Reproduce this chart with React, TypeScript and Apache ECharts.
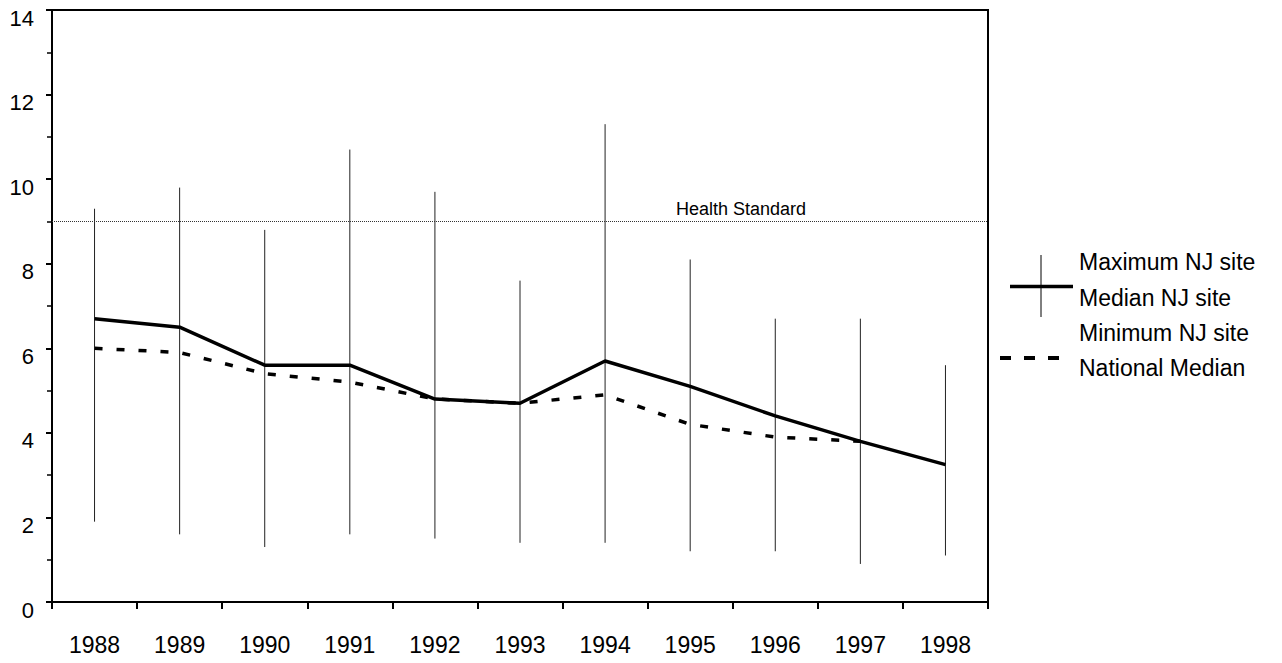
import React, { useEffect, useRef } from "react";
import * as echarts from "echarts";

const years = ["1988", "1989", "1990", "1991", "1992", "1993", "1994", "1995", "1996", "1997", "1998"];
const maxSite = [9.3, 9.8, 8.8, 10.7, 9.7, 7.6, 11.3, 8.1, 6.7, 6.7, 5.6];
const minSite = [1.9, 1.6, 1.3, 1.6, 1.5, 1.4, 1.4, 1.2, 1.2, 0.9, 1.1];
const medianSite = [6.7, 6.5, 5.6, 5.6, 4.8, 4.7, 5.7, 5.1, 4.4, 3.8, 3.25];
const nationalMedian = [6.0, 5.9, 5.4, 5.2, 4.8, 4.7, 4.9, 4.2, 3.9, 3.8, null];
const healthStandard = 9;
const legendLabels = ["Maximum NJ site", "Median NJ site", "Minimum NJ site", "National Median"];

const FONT = "Liberation Sans, Arial, sans-serif";

export default function App() {
  const ref = useRef<HTMLDivElement>(null);
  useEffect(() => {
    if (!ref.current) return;
    const chart = echarts.init(ref.current, null, { renderer: "svg" });
    const rangeData = years.map((_, i) => [i, minSite[i], maxSite[i]]);
    chart.setOption({
      animation: false,
      backgroundColor: "#fff",
      textStyle: { fontFamily: FONT },
      grid: {
        left: 52,
        right: 294,
        top: 10,
        bottom: 61,
        show: true,
        borderColor: "#000",
        borderWidth: 2,
      },
      xAxis: {
        type: "category",
        data: years,
        boundaryGap: true,
        axisLine: { lineStyle: { color: "#000", width: 2 } },
        axisTick: { show: true, length: 7, lineStyle: { color: "#000", width: 2 } },
        axisLabel: { color: "#000", fontSize: 23, margin: 31, fontFamily: FONT },
        splitLine: { show: false },
      },
      yAxis: {
        type: "value",
        min: 0,
        max: 14,
        interval: 2,
        axisLine: { show: true, lineStyle: { color: "#000", width: 2 } },
        axisTick: { show: true, length: 6, lineStyle: { color: "#000", width: 2 } },
        minorTick: { show: true, splitNumber: 2, length: 5, lineStyle: { color: "#000", width: 1.5 } },
        axisLabel: {
          color: "#000",
          fontSize: 22,
          margin: 18,
          fontFamily: FONT,
          verticalAlign: "top",
          lineHeight: 16,
        },
        splitLine: { show: false },
      },
      series: [
        {
          type: "custom",
          name: "Range",
          data: rangeData,
          renderItem: (params: any, api: any) => {
            const top = api.coord([api.value(0), api.value(2)]);
            const bot = api.coord([api.value(0), api.value(1)]);
            return {
              type: "line",
              shape: { x1: top[0], y1: top[1], x2: bot[0], y2: bot[1] },
              style: { stroke: "#222", lineWidth: 1 },
            };
          },
          z: 1,
        },
        {
          type: "line",
          name: "Median NJ site",
          data: medianSite,
          symbol: "none",
          lineStyle: { color: "#000", width: 3.5 },
          z: 3,
          markLine: {
            silent: true,
            symbol: "none",
            lineStyle: { color: "#333", width: 1, type: [1, 1] },
            label: {
              show: true,
              position: "insideMiddleTop",
              formatter: "Health Standard",
              color: "#000",
              fontSize: 18,
              fontFamily: FONT,
              offset: [221, 2],
            },
            data: [{ yAxis: healthStandard }],
          },
        },
        {
          type: "line",
          name: "National Median",
          data: nationalMedian,
          symbol: "none",
          lineStyle: { color: "#000", width: 3.5, type: [8, 14] },
          z: 2,
        },
      ],
      graphic: [
        { type: "line", shape: { x1: 1041, y1: 255, x2: 1041, y2: 317 }, style: { stroke: "#000", lineWidth: 1 } },
        { type: "line", shape: { x1: 1010, y1: 286.5, x2: 1073, y2: 286.5 }, style: { stroke: "#000", lineWidth: 3.5 } },
        { type: "line", shape: { x1: 1000, y1: 358, x2: 1061, y2: 358 }, style: { stroke: "#000", lineWidth: 4, lineDash: [11, 13] } },
        ...legendLabels.map((t, i) => ({
          type: "text",
          x: 1079,
          y: [262, 297.5, 332.5, 368][i],
          style: { text: t, fill: "#000", font: `23px ${FONT}`, textVerticalAlign: "middle", verticalAlign: "middle" },
        })),
      ],
    });
    return () => chart.dispose();
  }, []);
  return <div ref={ref} style={{ position: "fixed", left: 0, top: 0, width: 1282, height: 663 }} />;
}
